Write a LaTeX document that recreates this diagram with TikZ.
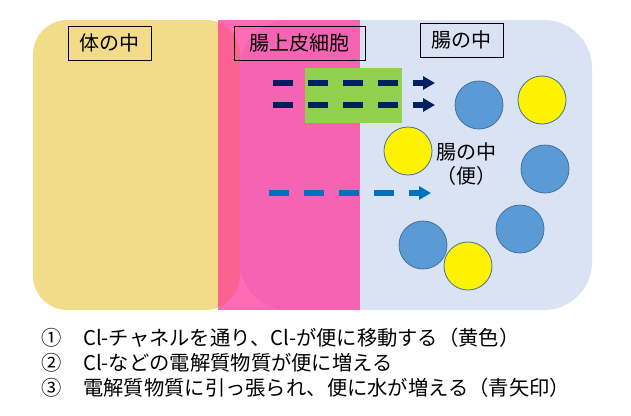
\documentclass[tikz,border=0pt]{standalone}
\usepackage{fontspec}
\setmainfont{Noto Sans CJK JP}
\usetikzlibrary{arrows.meta}
\definecolor{bodyyellow}{HTML}{F2DC8A}
\definecolor{gutblue}{HTML}{DAE3F3}
\definecolor{cellpink}{HTML}{FF3399}
\definecolor{chgreen}{HTML}{92D050}
\definecolor{ionnavy}{HTML}{002060}
\definecolor{waterblue}{HTML}{0070C0}
\definecolor{ionblue}{HTML}{5B9BD5}
\definecolor{ionedge}{HTML}{41719C}
\tikzset{
  tag/.style={draw=black, line width=0.9pt, minimum height=34pt, inner sep=0pt,
    font=\fontsize{20}{24}\selectfont},
  ion/.style={circle, draw=ionedge, line width=0.8pt, minimum size=48pt, inner sep=0pt},
  clion/.style={ion, fill=yellow},
  naion/.style={ion, fill=ionblue},
  ionflow/.style={-{Triangle[length=12pt,width=13pt]}, line width=5.4pt,
    dash pattern=on 20pt off 15pt, draw=ionnavy},
  waterflow/.style={ionflow, draw=waterblue},
  note/.style={anchor=base west, inner sep=0pt, font=\fontsize{20.3}{24}\selectfont},
  num/.style={anchor=base, inner sep=0pt, font=\fontsize{20.3}{24}\selectfont},
}

\begin{document}
\begin{tikzpicture}[x=1pt,y=-1pt]
\useasboundingbox (0,0) rectangle (631,415);
% regions
\fill[bodyyellow, rounded corners=34.5pt] (33,20) rectangle (240,310);
\fill[gutblue, rounded corners=48pt] (240,20) rectangle (592,310);
\fill[cellpink, fill opacity=0.72] (218,20) rectangle (360,310);
\fill[chgreen] (305,68) rectangle (402,123);
% region tags
\node[tag, minimum width=83pt] (body) at (109.5,43) {体の中};
\node[tag, minimum width=131pt] (cell) at (299.5,43) {腸上皮細胞};
\node[tag, minimum width=83pt] (lumen) at (461.5,40) {腸の中};
% flows
\coordinate (cla) at (273,83);
\coordinate (clb) at (435,83);
\coordinate (elya) at (273,105);
\coordinate (elyb) at (435,105);
\coordinate (wata) at (269,193);
\coordinate (watb) at (431,193);
\draw[ionflow] (cla) -- (clb);
\draw[ionflow] (elya) -- (elyb);
\draw[waterflow] (wata) -- (watb);
% ions in the stool
\node[naion] (na1) at (479,105) {};
\node[clion] (cl1) at (542,100) {};
\node[clion] (cl2) at (408,151) {};
\node[naion] (na2) at (545,169) {};
\node[naion] (na3) at (520,229) {};
\node[naion] (na4) at (423,245) {};
\node[clion] (cl3) at (468,266) {};
\node[align=center, inner sep=0pt, font=\fontsize{20}{24}\selectfont] (stool) at (466,164) {腸の中\\（便）};
% notes
\node[num] (m1) at (52,345) {①};
\node[num] (m2) at (52,370) {②};
\node[num] (m3) at (52,395.5) {③};
\node[note] (n1) at (83,345) {Cl-チャネルを通り、Cl-が便に移動する（黄色）};
\node[note] (n2) at (83,370) {Cl-などの電解質物質が便に増える};
\node[note] (n3) at (83,395.5) {電解質物質に引っ張られ、便に水が増える（青矢印）};
\end{tikzpicture}
\end{document}
